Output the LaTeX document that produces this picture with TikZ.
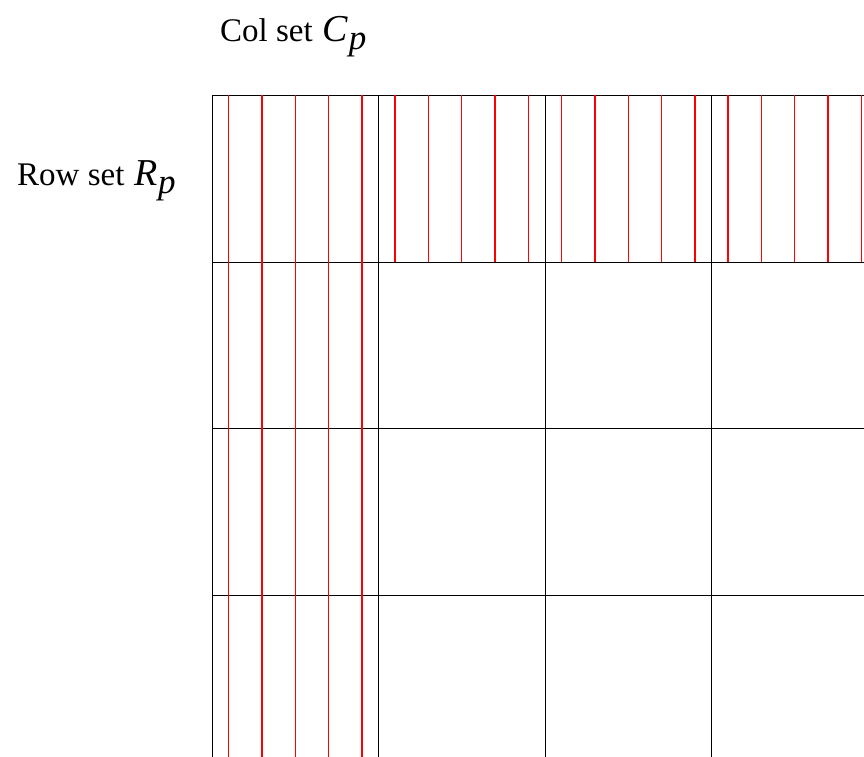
\documentclass[tikz,border=0pt]{standalone}
\usepackage{fontspec}
\setmainfont{Liberation Serif}
\newcommand{\setsym}[1]{{\fontsize{38}{40}\selectfont\textit{#1}}\kern0.5pt\raisebox{-8pt}{\fontsize{35}{38}\selectfont\textit{p}}}
\begin{document}
\begin{tikzpicture}[x=1pt,y=-1pt,
  gridline/.style={black, line width=1pt},
  redline/.style={red, line width=1.4pt},
  lbl/.style={font=\fontsize{33}{36}\selectfont, inner sep=0pt, anchor=base west}]
\useasboundingbox (0,0) rectangle (864,757);
\begin{scope}
\clip (0,0) rectangle (864,757);
% black grid
\foreach \i in {0,...,4} {
  \draw[gridline] (212+166.5*\i,95.5) -- (212+166.5*\i,780);
  \draw[gridline] (212,95.5+166.5*\i) -- (900,95.5+166.5*\i);
}
% red lines, first column full height
\foreach \k in {1,3,5,7,9} {
  \draw[redline] (212+16.65*\k,95.5) -- (212+16.65*\k,780);
}
% red lines, top row, other columns
\foreach \c in {1,2,3} {
  \foreach \k in {1,3,5,7,9} {
    \draw[redline] (212+166.5*\c+16.65*\k,95.5) -- (212+166.5*\c+16.65*\k,262);
  }
}
\end{scope}
\node[lbl] (colset) at (220,42) {Col set\hspace{0.3em}\setsym{C}};
\node[lbl] (rowset) at (17,185) {Row set\hspace{0.3em}\setsym{R}};
\end{tikzpicture}
\end{document}
